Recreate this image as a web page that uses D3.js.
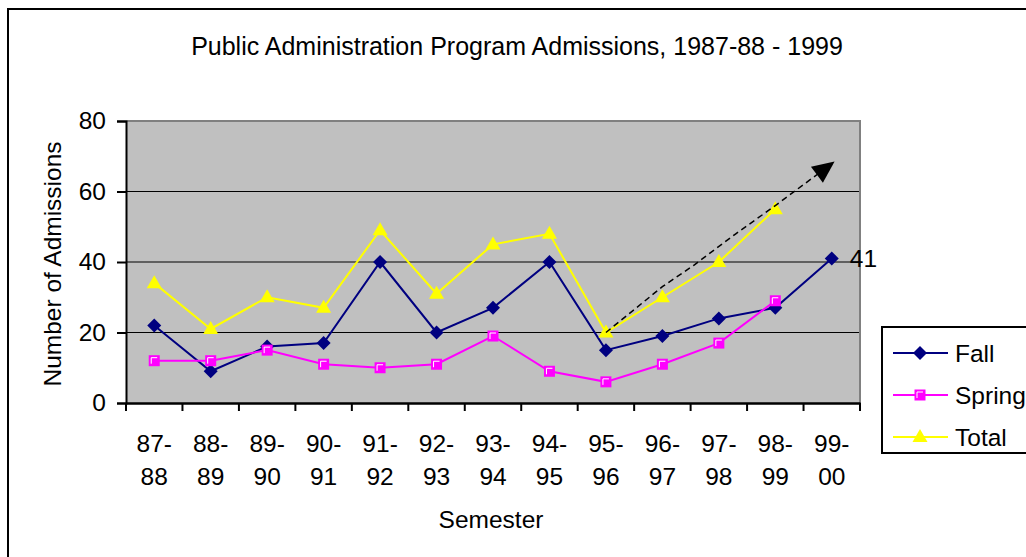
<!DOCTYPE html>
<html><head><meta charset="utf-8">
<script src="https://cdn.jsdelivr.net/npm/d3@7"></script>
<style>body{margin:0;background:#fff}svg{display:block;font-family:"Liberation Sans",Arial,sans-serif}</style>
</head><body><svg id="c" width="1026" height="557"></svg>
<script>
const categories = ["87-88","88-89","89-90","90-91","91-92","92-93","93-94","94-95","95-96","96-97","97-98","98-99","99-00"];
const fall   = [22, 9, 16, 17, 40, 20, 27, 40, 15, 19, 24, 27, 41];
const spring = [12, 12, 15, 11, 10, 11, 19, 9, 6, 11, 17, 29, null];
const total  = [34, 21, 30, 27, 49, 31, 45, 48, 20, 30, 40, 55, null];
const yTicks = [0, 20, 40, 60, 80];
const seriesNames = ["Fall", "Spring", "Total"];
const seriesColors = ["#000080", "#FF00FF", "#FFFF00"];
// trend arrow annotation: [category index, value]
const trendArrow = [[8,20],[9,33],[9.55,39],[10.3,48],[11,56],[12.05,68.5]];
const lastLabel = {index: 12, value: 41, text: "41"};

const FS = 24.5;
const svg = d3.select("#c");
const L = 126, R = 860, T = 121, B = 403;
const x = d3.scaleBand().domain(categories).range([L, R]).padding(0);
const y = d3.scaleLinear().domain([0, 80]).range([B, T]);
const xi = i => L + (i + 0.5) * x.bandwidth();

// outer border
svg.append("rect").attr("x", 8).attr("y", 9).attr("width", 1030).attr("height", 560)
  .attr("fill", "none").attr("stroke", "#000").attr("stroke-width", 2);

// title
svg.append("text").attr("x", 517).attr("y", 55).attr("text-anchor", "middle")
  .attr("font-size", FS + 0.5).text("Public Administration Program Admissions, 1987-88 - 1999");

// plot area
svg.append("rect").attr("x", L).attr("y", T).attr("width", R - L).attr("height", B - T).attr("fill", "#C0C0C0");
svg.append("g").selectAll("line").data(yTicks.filter(v => v > 0 && v < 80)).join("line")
  .attr("x1", L).attr("x2", R).attr("y1", d => y(d)).attr("y2", d => y(d)).attr("stroke", "#000").attr("stroke-width", 1.2);
svg.append("path").attr("d", `M${L},${T}H${R}V${B}`).attr("fill", "none").attr("stroke", "#808080").attr("stroke-width", 2);

// y axis
const ya = svg.append("g").attr("transform", `translate(${L},0)`)
  .call(d3.axisLeft(y).tickValues(yTicks).tickSize(9).tickPadding(11).tickFormat(d3.format("d")));
ya.select(".domain").attr("stroke", "#000").attr("stroke-width", 2);
ya.selectAll(".tick line").attr("stroke-width", 2);
ya.selectAll("text").attr("font-size", FS).attr("font-family", "Liberation Sans, Arial, sans-serif").attr("fill", "#000");

// x axis
const xa = svg.append("g").attr("transform", `translate(0,${B})`)
  .call(d3.axisBottom(x).tickSize(0).tickFormat(""));
xa.select(".domain").attr("stroke", "#000").attr("stroke-width", 2.5);
const bounds = d3.range(categories.length + 1).map(i => L + i * x.bandwidth());
svg.append("g").selectAll("line").data(bounds).join("line")
  .attr("x1", d => d).attr("x2", d => d).attr("y1", B).attr("y2", B + 8).attr("stroke", "#000").attr("stroke-width", 2);
const xl = svg.append("g").selectAll("text").data(categories).join("text")
  .attr("text-anchor", "middle").attr("font-size", FS)
  .attr("transform", d => `translate(${x(d) + x.bandwidth() / 2},0)`);
xl.append("tspan").attr("x", 0).attr("y", 452).text(d => d.split("-")[0] + "-");
xl.append("tspan").attr("x", 0).attr("y", 485).text(d => d.split("-")[1]);

// axis titles
svg.append("text").attr("transform", "translate(61,264) rotate(-90)").attr("text-anchor", "middle")
  .attr("font-size", FS).text("Number of Admissions");
svg.append("text").attr("x", 491).attr("y", 528).attr("text-anchor", "middle").attr("font-size", FS).text("Semester");

// markers
function marker(g, k, cx, cy) {
  if (k === 0) {
    g.append("path").attr("d", `M${cx},${cy-7}L${cx+7},${cy}L${cx},${cy+7}L${cx-7},${cy}Z`).attr("fill", "#000080");
  } else if (k === 1) {
    g.append("rect").attr("x", cx-5.5).attr("y", cy-5.5).attr("width", 11).attr("height", 11).attr("fill", "#FF00FF");
    g.append("path").attr("d", `M${cx-3},${cy+3}V${cy-3}H${cx+3}`).attr("fill", "none").attr("stroke", "#fff").attr("stroke-width", 1);
  } else {
    g.append("path").attr("d", `M${cx},${cy-8}L${cx+7.5},${cy+5}L${cx-7.5},${cy+5}Z`).attr("fill", "#FFFF00");
  }
}

const data = [fall, spring, total];
const line = d3.line().defined(d => d[1] != null).x(d => xi(d[0])).y(d => y(d[1]));
[0, 1, 2].forEach(k => {
  const pts = data[k].map((v, i) => [i, v]);
  svg.append("path").datum(pts).attr("d", line).attr("fill", "none")
    .attr("stroke", seriesColors[k]).attr("stroke-width", 2);
  const g = svg.append("g");
  pts.filter(p => p[1] != null).forEach(p => marker(g, k, xi(p[0]), y(p[1])));
});

// trend arrow
const aPts = trendArrow.map(p => [xi(p[0]), y(p[1])]);
svg.append("path").attr("d", d3.line()(aPts.slice(0, -1).concat([[
    aPts[aPts.length-1][0] - 14*Math.cos(Math.atan2(aPts[aPts.length-1][1]-aPts[aPts.length-2][1], aPts[aPts.length-1][0]-aPts[aPts.length-2][0])),
    aPts[aPts.length-1][1] - 14*Math.sin(Math.atan2(aPts[aPts.length-1][1]-aPts[aPts.length-2][1], aPts[aPts.length-1][0]-aPts[aPts.length-2][0]))]])))
  .attr("fill", "none").attr("stroke", "#000").attr("stroke-width", 1.5).attr("stroke-dasharray", "6,4");
const n = aPts.length, p1 = aPts[n-1], p0 = aPts[n-2];
const ang = Math.atan2(p1[1]-p0[1], p1[0]-p0[0]);
const hl = 22, hw = 10;
const bx = p1[0] - hl*Math.cos(ang), by = p1[1] - hl*Math.sin(ang);
svg.append("path").attr("d", `M${p1[0]},${p1[1]}L${bx + hw*Math.sin(ang)},${by - hw*Math.cos(ang)}L${bx - hw*Math.sin(ang)},${by + hw*Math.cos(ang)}Z`).attr("fill", "#000");

// data label
svg.append("text").attr("x", xi(lastLabel.index) + 18).attr("y", y(lastLabel.value) + 9)
  .attr("font-size", FS).text(lastLabel.text);

// legend
svg.append("rect").attr("x", 882).attr("y", 327).attr("width", 160).attr("height", 126)
  .attr("fill", "#fff").attr("stroke", "#000").attr("stroke-width", 2);
const ly = [353, 395, 437];
seriesNames.forEach((s, k) => {
  const g = svg.append("g");
  g.append("line").attr("x1", 893).attr("x2", 948).attr("y1", ly[k]).attr("y2", ly[k]).attr("stroke", seriesColors[k]).attr("stroke-width", 2);
  marker(g, k, 920, ly[k]);
  g.append("text").attr("x", 955).attr("y", ly[k] + 9).attr("font-size", FS).text(s);
});
</script></body></html>
